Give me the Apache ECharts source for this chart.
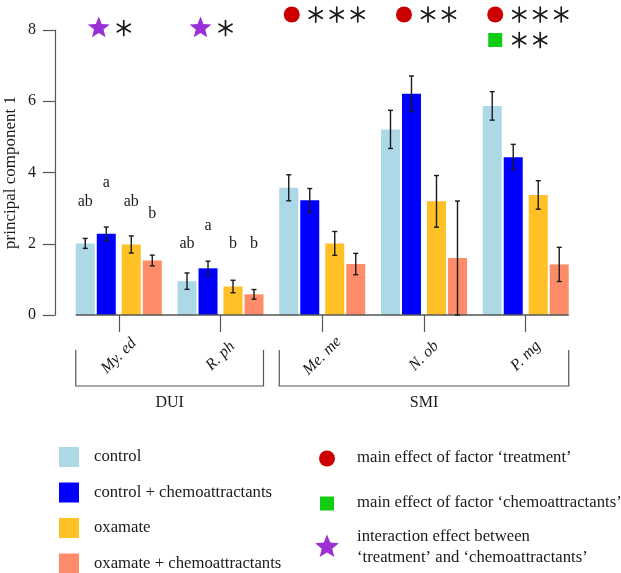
<!DOCTYPE html>
<html><head><meta charset="utf-8">
<script src="https://cdn.jsdelivr.net/npm/echarts@6/dist/echarts.min.js"></script>
<style>html,body{margin:0;padding:0;background:#fff}#c{width:621px;height:573px}</style>
</head><body><div id="c"></div>
<script>
// ---------- data ----------
const categories = ['My. ed', 'R. ph', 'Me. me', 'N. ob', 'P. mg'];
const seriesNames = ['control', 'control + chemoattractants', 'oxamate', 'oxamate + chemoattractants'];
const control      = [2.01, 0.95, 3.57, 5.21, 5.87];
const controlChemo = [2.28, 1.31, 3.22, 6.21, 4.43];
const oxamate      = [1.98, 0.80, 2.01, 3.19, 3.37];
const oxamateChemo = [1.53, 0.58, 1.43, 1.60, 1.42];
const controlErr      = [0.14, 0.23, 0.365, 0.535, 0.40];
const controlChemoErr = [0.19, 0.20, 0.33, 0.50, 0.36];
const oxamateErr      = [0.24, 0.175, 0.335, 0.725, 0.40];
const oxamateChemoErr = [0.15, 0.135, 0.30, 1.60, 0.48];
const yTicks = [0, 2, 4, 6, 8];
// letters above bars
const letterCat  = [0, 0, 0, 0, 1, 1, 1, 1];
const letterBar  = [0, 1, 2, 3, 0, 1, 2, 3];
const letterText = ['ab', 'a', 'ab', 'b', 'ab', 'a', 'b', 'b'];
const letterY    = [3.18, 3.70, 3.18, 2.83, 2.0, 2.51, 2.0, 2.0];
// significance
const sigTreatment   = ['', '', '***', '**', '***'];
const sigChemo       = ['', '', '', '', '**'];
const sigInteraction = ['*', '*', '', '', ''];
// groups
const groupNames = ['DUI', 'SMI'];
const groupFrom  = [0, 2];
const groupTo    = [1, 4];
const effectNames = ['main effect of factor \u2018treatment\u2019',
                     'main effect of factor \u2018chemoattractants\u2019',
                     'interaction effect between\n\u2018treatment\u2019 and \u2018chemoattractants\u2019'];

// ---------- style ----------
const FONT = '"Liberation Serif", "Times New Roman", serif';
const colors = ['#ADD8E6', '#0000FF', '#FFC125', '#FF8C69'];
const RED = '#CC0000', GREEN = '#11CC11', PURPLE = '#9B30D6';
const INK = '#1a1a1a', AXIS = '#555';
const LEG_FONT = '16.7px ' + FONT;

const values = [control, controlChemo, oxamate, oxamateChemo];
const errs = [controlErr, controlChemoErr, oxamateErr, oxamateChemoErr];

// bar layout (mirrors ECharts bar offset computation)
const BAR_W = 19, GAP = 2, MID_GAP = 6;
const gapPct = GAP / BAR_W;
const D = (MID_GAP - GAP) / (1 + gapPct);
const widths = [BAR_W, BAR_W, D, BAR_W, BAR_W];
let sum = 0; widths.forEach(w => sum += w * (1 + gapPct)); sum -= widths[4] * gapPct;
let off = -sum / 2; const centers = [];
widths.forEach(w => { centers.push(off + w / 2); off += w * (1 + gapPct); });
const barOffset = [centers[0], centers[1], centers[3], centers[4]];
const groupHalf = sum / 2;

function starPoints(cx, cy, R, r) {
  const pts = [];
  for (let k = 0; k < 10; k++) {
    const a = -Math.PI / 2 + k * Math.PI / 5;
    const rr = k % 2 === 0 ? R : r;
    pts.push([cx + rr * Math.cos(a), cy + rr * Math.sin(a)]);
  }
  return pts;
}
function asterisk(cx, cy, rad) {
  const ch = [];
  [90, 30, 150].forEach(deg => {
    const a = deg * Math.PI / 180;
    ch.push({type: 'line', shape: {x1: cx - rad * Math.cos(a), y1: cy - rad * Math.sin(a), x2: cx + rad * Math.cos(a), y2: cy + rad * Math.sin(a)},
      style: {stroke: INK, lineWidth: 1.7, lineCap: 'round'}});
  });
  return ch;
}

const series = [];
values.forEach((v, k) => {
  series.push({type: 'bar', name: seriesNames[k], data: v, barWidth: BAR_W, barGap: (gapPct * 100) + '%',
    itemStyle: {color: colors[k]}, silent: true});
  if (k === 1) {
    series.push({type: 'bar', name: '_spacer', data: categories.map(() => 0), barWidth: D, barGap: (gapPct * 100) + '%',
      itemStyle: {opacity: 0}, silent: true});
  }
});

// error bars
const errData = [];
values.forEach((v, k) => v.forEach((m, i) => errData.push([i, m, errs[k][i], k])));
series.push({
  type: 'custom', name: 'errors', silent: true, z: 5, data: errData,
  encode: {x: 0, y: 1},
  renderItem(params, api) {
    const i = api.value(0), m = api.value(1), e = api.value(2), k = api.value(3);
    const t = api.coord([i, m + e]), b = api.coord([i, Math.max(m - e, 0)]);
    const x = t[0] + barOffset[k];
    const st = {stroke: INK, lineWidth: 1.4};
    return {type: 'group', children: [
      {type: 'line', shape: {x1: x, y1: t[1], x2: x, y2: b[1]}, style: st},
      {type: 'line', shape: {x1: x - 2.5, y1: t[1], x2: x + 2.5, y2: t[1]}, style: st},
      {type: 'line', shape: {x1: x - 2.5, y1: b[1], x2: x + 2.5, y2: b[1]}, style: st}
    ]};
  }
});

// letters
series.push({
  type: 'custom', name: 'letters', silent: true, z: 6,
  data: letterCat.map((c, j) => [c, letterY[j], letterBar[j]]),
  encode: {x: 0, y: 1},
  renderItem(params, api) {
    const p = api.coord([api.value(0), api.value(1)]);
    return {type: 'text', x: p[0] + barOffset[api.value(2)], y: p[1],
      style: {text: letterText[params.dataIndex], fill: INK, font: '16px ' + FONT, align: 'center', verticalAlign: 'middle'}};
  }
});

// significance annotations
function sigSeries(kind, arr) {
  return {
    type: 'custom', name: kind, silent: true, z: 7,
    data: categories.map((c, i) => [i, 8]),
    encode: {x: 0, y: 1},
    renderItem(params, api) {
      const i = params.dataIndex, n = arr[i].length;
      if (!n) return null;
      const c = api.coord([i, 8]);
      const cx = c[0], top = c[1];
      const ch = [];
      let sx, y, astX;
      if (kind === 'interaction') {
        y = top - 2; sx = cx - 20; astX = sx + 25;
        ch.push({type: 'polygon', shape: {points: starPoints(sx, y, 11.5, 5)}, style: {fill: PURPLE}});
      } else {
        const nRef = (kind === 'chemo' && sigTreatment[i].length) ? sigTreatment[i].length : n;
        sx = cx + 2 - (39 + 21 * (nRef - 1)) / 2 + 8; astX = sx + 24;
        if (kind === 'treatment') {
          y = top - 15.5;
          ch.push({type: 'circle', shape: {cx: sx, cy: y, r: 8}, style: {fill: RED}});
        } else {
          y = top + 10;
          ch.push({type: 'rect', shape: {x: sx - 7, y: y - 7, width: 14, height: 14}, style: {fill: GREEN}});
        }
      }
      for (let j = 0; j < n; j++) asterisk(astX + 21 * j, y, 7.5).forEach(e => ch.push(e));
      return {type: 'group', children: ch};
    }
  };
}
series.push(sigSeries('treatment', sigTreatment));
series.push(sigSeries('chemo', sigChemo));
series.push(sigSeries('interaction', sigInteraction));

// baseline + group brackets
series.push({
  type: 'custom', name: 'groups', silent: true, z: 4,
  data: groupNames.map((g, j) => [groupFrom[j], 0, groupTo[j]]),
  encode: {x: 0, y: 1},
  renderItem(params, api) {
    const a = api.coord([api.value(0), 0]), b = api.coord([api.value(2), 0]);
    const x0 = a[0] - groupHalf, x1 = b[0] + groupHalf, y = a[1];
    const ch = [
      {type: 'polyline', shape: {points: [[x0, y + 35], [x0, y + 71], [x1, y + 71], [x1, y + 35]]},
        style: {stroke: AXIS, lineWidth: 1.2, fill: null}},
      {type: 'text', x: (x0 + x1) / 2, y: y + 88,
        style: {text: groupNames[params.dataIndex], fill: INK, font: '16px ' + FONT, align: 'center', verticalAlign: 'middle'}}
    ];
    if (params.dataIndex === 0) {
      const e = api.coord([categories.length - 1, 0]);
      ch.push({type: 'line', shape: {x1: x0, y1: y, x2: e[0] + groupHalf, y2: y}, style: {stroke: AXIS, lineWidth: 1.3}});
    }
    return {type: 'group', children: ch};
  }
});

// legend (graphic)
const graphic = [];
seriesNames.forEach((n, k) => {
  const cy = 457 + k * 35.5;
  graphic.push({type: 'rect', shape: {x: 59, y: cy - 10, width: 20, height: 20}, style: {fill: colors[k]}});
  graphic.push({type: 'text', x: 94, y: cy, style: {text: n, fill: INK, font: LEG_FONT, verticalAlign: 'middle'}});
});
graphic.push({type: 'circle', shape: {cx: 327, cy: 458.5, r: 8}, style: {fill: RED}});
graphic.push({type: 'text', x: 357, y: 458, style: {text: effectNames[0], fill: INK, font: LEG_FONT, verticalAlign: 'middle'}});
graphic.push({type: 'rect', shape: {x: 320, y: 496.5, width: 14, height: 14}, style: {fill: GREEN}});
graphic.push({type: 'text', x: 357, y: 503, style: {text: effectNames[1], fill: INK, font: LEG_FONT, verticalAlign: 'middle'}});
graphic.push({type: 'polygon', shape: {points: starPoints(327, 547, 12.5, 5.5)}, style: {fill: PURPLE}});
graphic.push({type: 'text', x: 357, y: 547.5, style: {text: effectNames[2], fill: INK, font: LEG_FONT, lineHeight: 21, verticalAlign: 'middle'}});

const chart = echarts.init(document.getElementById('c'), null, {renderer: 'canvas'});
chart.setOption({
  animation: false,
  backgroundColor: '#fff',
  grid: {left: 67.9, right: 44.4, top: 30, bottom: 258, containLabel: false, outerBoundsMode: 'none'},
  xAxis: {
    type: 'category', data: categories,
    axisLine: {show: false},
    axisTick: {show: true, alignWithLabel: true, length: 17, lineStyle: {color: AXIS, width: 1.2}},
    axisLabel: {rotate: 45, margin: 41, align: 'center', verticalAlign: 'middle', fontStyle: 'italic',
      fontSize: 16, fontFamily: FONT, color: INK, interval: 0},
    splitLine: {show: false}
  },
  yAxis: {
    type: 'value', min: yTicks[0], max: yTicks[yTicks.length - 1], interval: yTicks[1] - yTicks[0], offset: 13,
    name: 'principal component 1', nameLocation: 'middle', nameGap: 36, nameRotate: 90, nameMoveOverlap: false,
    nameTextStyle: {fontSize: 17, fontFamily: FONT, color: INK},
    axisLine: {show: true, lineStyle: {color: AXIS, width: 1.2}},
    axisTick: {show: true, length: 12, lineStyle: {color: AXIS, width: 1.2}},
    axisLabel: {margin: 19, fontSize: 16, fontFamily: FONT, color: INK},
    splitLine: {show: false}
  },
  series: series,
  graphic: graphic
});
</script>
</body></html>
